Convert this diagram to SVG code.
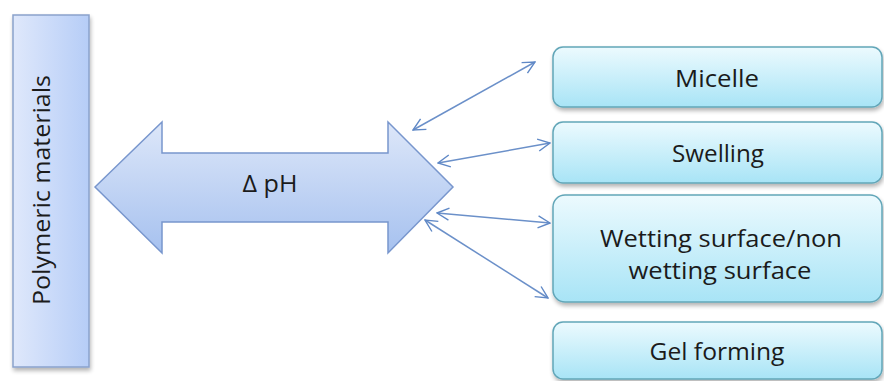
<svg xmlns="http://www.w3.org/2000/svg" width="884" height="381" viewBox="0 0 884 381">
<defs>
<linearGradient id="gLeft" x1="0" y1="0" x2="1" y2="0">
<stop offset="0" stop-color="#dfe8fb"/>
<stop offset="1" stop-color="#b6cdf7"/>
</linearGradient>
<linearGradient id="gArrow" x1="0" y1="0" x2="0" y2="1">
<stop offset="0" stop-color="#dde7f9"/>
<stop offset="1" stop-color="#a6c1ef"/>
</linearGradient>
<linearGradient id="gBox" x1="0" y1="0" x2="0" y2="1">
<stop offset="0" stop-color="#ecfafe"/>
<stop offset="1" stop-color="#a8e4f6"/>
</linearGradient>
<filter id="sh" x="-10%" y="-10%" width="120%" height="130%">
<feGaussianBlur in="SourceAlpha" stdDeviation="2"/>
<feOffset dx="1" dy="3" result="b"/>
<feComponentTransfer><feFuncA type="linear" slope="0.3"/></feComponentTransfer>
<feMerge><feMergeNode/><feMergeNode in="SourceGraphic"/></feMerge>
</filter>
<marker id="ah" viewBox="0 0 14 14" refX="13" refY="7" markerWidth="14" markerHeight="14" markerUnits="userSpaceOnUse" orient="auto-start-reverse">
<path d="M1,1 L13,7 L1,13" fill="none" stroke="#5f88c6" stroke-width="1.4"/>
</marker>
</defs>
<style>
.box{fill:url(#gBox);stroke:#62a6b8;stroke-width:1.5;filter:url(#sh)}
.t{font-family:"Open Sans","Liberation Sans",sans-serif;font-size:24px;fill:#1b1b1b;text-anchor:middle}
.c{fill:none;stroke:#6b90c9;stroke-width:1.5;marker-start:url(#ah);marker-end:url(#ah)}
</style>
<rect width="884" height="381" fill="#ffffff"/>
<g id="polymeric">
<rect x="13" y="15" width="76" height="352" fill="url(#gLeft)" stroke="#8aa2cc" stroke-width="1.5" filter="url(#sh)"/>
<text class="t" transform="translate(50,190) rotate(-90)" textLength="230" lengthAdjust="spacingAndGlyphs">Polymeric materials</text>
</g>
<g id="ph-arrow">
<path d="M95,187 L162,122 L162,153 L388,153 L388,122 L453,187 L388,253 L388,222 L162,222 L162,253 Z" fill="url(#gArrow)" stroke="#7896cd" stroke-width="1.5"/>
<text class="t" x="270" y="192" textLength="55" lengthAdjust="spacingAndGlyphs">Δ pH</text>
</g>
<g id="micelle">
<rect class="box" x="553" y="47" width="329" height="60" rx="10"/>
<text class="t" x="717" y="87" textLength="84" lengthAdjust="spacingAndGlyphs">Micelle</text>
</g>
<g id="swelling">
<rect class="box" x="553" y="122" width="329" height="61" rx="10"/>
<text class="t" x="718" y="162" textLength="92" lengthAdjust="spacingAndGlyphs">Swelling</text>
</g>
<g id="wetting">
<rect class="box" x="553" y="195" width="329" height="107" rx="12"/>
<text class="t" x="721" y="247" textLength="242" lengthAdjust="spacingAndGlyphs">Wetting surface/non</text>
<text class="t" x="720" y="279" textLength="183" lengthAdjust="spacingAndGlyphs">wetting surface</text>
</g>
<g id="gel">
<rect class="box" x="553" y="322" width="329" height="57" rx="10"/>
<text class="t" x="717" y="360" textLength="135" lengthAdjust="spacingAndGlyphs">Gel forming</text>
</g>
<g id="connectors">
<line class="c" x1="413" y1="130" x2="535" y2="62"/>
<line class="c" x1="438" y1="163" x2="550" y2="143"/>
<line class="c" x1="437" y1="213" x2="550" y2="223"/>
<line class="c" x1="425" y1="220" x2="548" y2="298"/>
</g>
</svg>
